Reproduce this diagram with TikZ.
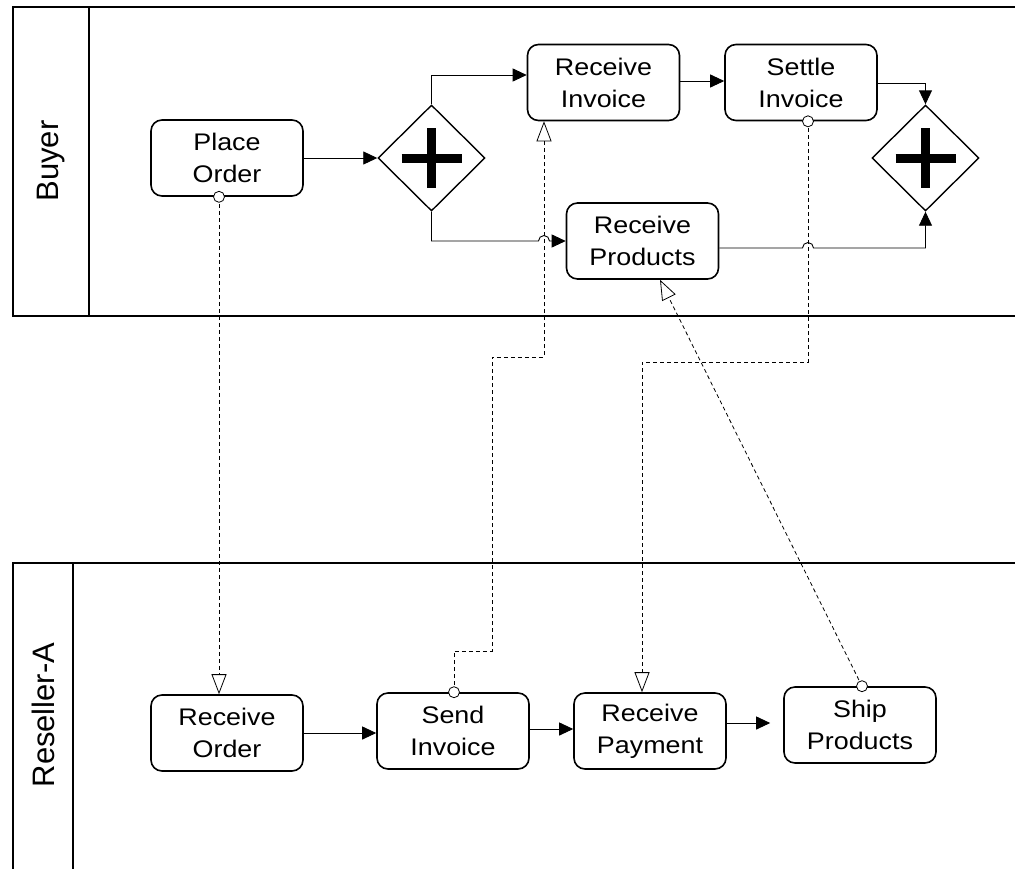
\documentclass[tikz,border=0pt]{standalone}
\usepackage{fontspec}
\setmainfont{Liberation Sans}
\newfontfamily\taskfont[FakeStretch=1.12]{Liberation Sans}
\usetikzlibrary{arrows.meta,shapes.geometric,calc}
\begin{document}
\begin{tikzpicture}[x=1pt,y=-1pt,
  task/.style={draw, rounded corners=11pt, line width=1.6pt, minimum width=152pt,
    minimum height=76pt, align=center, inner sep=0pt, fill=white,
    font=\taskfont\fontsize{24}{32}\selectfont},
  gateway/.style={draw, diamond, aspect=1, line width=1.4pt, minimum width=107pt,
    minimum height=106pt, inner sep=0pt, fill=white},
  plus/.style={line width=9pt},
  flow/.style={line width=0.9pt, -{Triangle[length=14pt,width=13pt]}},
  msg/.style={line width=0.8pt, dash pattern=on 4pt off 3pt,
    -{Triangle[length=20pt,width=15pt,fill=white,line width=0.8pt]}},
  msgsource/.style={circle, draw, fill=white, line width=0.8pt, minimum size=11pt, inner sep=0pt},
  pool/.style={line width=1.8pt},
  lanelabel/.style={rotate=90, font=\fontsize{31}{36}\selectfont}]
\useasboundingbox (0,0) rectangle (1015,868);
\clip (0,0) rectangle (1015,868);

% pools
\draw[pool] (13,7) rectangle (1040,316);
\draw[pool] (89,7) -- (89,316);
\node[lanelabel] (buyer) at (51,161) {Buyer};
\draw[pool] (13,563) rectangle (1040,900);
\draw[pool] (73,563) -- (73,900);
\node[lanelabel] (reseller) at (43,715) {Reseller-A};

% buyer activities
\node[task] (po) at (227,158) {Place\\Order};
\node[gateway] (g1) at (431.5,158) {};
\node[task] (ri) at (603.5,82.5) {Receive\\Invoice};
\node[task] (setinv) at (801,82.5) {Settle\\Invoice};
\node[task] (rp) at (642.5,241) {Receive\\Products};
\node[gateway] (g2) at (925.5,158) {};
\draw[plus] ($(g1)+(-30,0)$) -- ($(g1)+(30,0)$) ($(g1)+(0,-30)$) -- ($(g1)+(0,30)$);
\draw[plus] ($(g2)+(-30,0)$) -- ($(g2)+(30,0)$) ($(g2)+(0,-30)$) -- ($(g2)+(0,30)$);

% reseller activities
\node[task] (ro) at (227,733) {Receive\\Order};
\node[task] (sinv) at (453,731) {Send\\Invoice};
\node[task] (rpay) at (650,731) {Receive\\Payment};
\node[task] (ship) at (860,725) {Ship\\Products};

% sequence flows
\draw[flow] (po) -- (g1);
\draw[flow] (g1.north) |- (ri.west |- 0,75);
\draw[flow] (g1.south) |- (538.5,241) arc[start angle=180,end angle=0,radius=5.5pt] -- (rp.west);
\draw[flow] (ri.east |- 0,81) -- (setinv.west |- 0,81);
\draw[flow] (setinv.east |- 0,83) -| (g2.north);
\draw[flow] (rp.east |- 0,248) -- (802.5,248) arc[start angle=180,end angle=0,radius=5.5pt] -| (g2.south);
\draw[flow] (ro.east) -- (sinv.west |- ro.east);
\draw[flow] (sinv.east |- 0,729) -- (rpay.west |- 0,729);
\draw[flow] (rpay.east |- 0,723) -- ($(ship.west |- 0,723)+(-13,0)$);

% message flows, each starting at a small circle on the sending task
\coordinate (m1) at (po.south -| 219,0);
\coordinate (m2) at (sinv.north -| 454,0);
\coordinate (m3) at (setinv.south -| 808,0);
\coordinate (m4) at (ship.north -| 862,0);
\draw[msg] (m1) -- (ro.north -| 219,0);
\draw[msg] (m2) |- (492,651) |- (544,357) -- (ri.south -| 544,0);
\draw[msg] (m3) |- (642,362) -- (rpay.north -| 642,0);
\draw[msg] (m4) -- (rp.south -| 660,0);
\node[msgsource] (s1) at (m1) {};
\node[msgsource] (s2) at (m2) {};
\node[msgsource] (s3) at (m3) {};
\node[msgsource] (s4) at (m4) {};
\end{tikzpicture}
\end{document}
